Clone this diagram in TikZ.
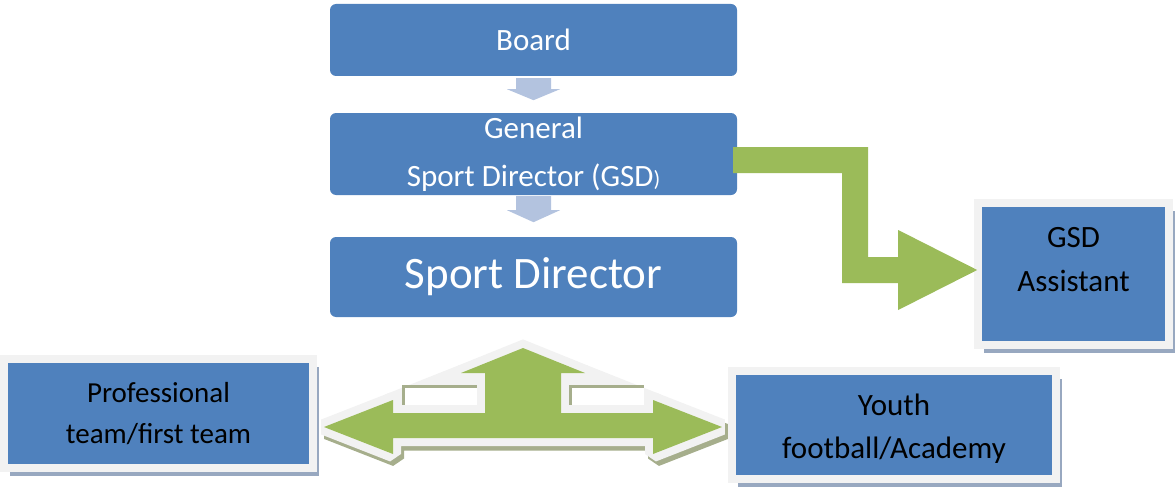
\documentclass[tikz,border=0pt]{standalone}
\usepackage{fontspec}
\setmainfont{Carlito}
\usetikzlibrary{shadows}
\definecolor{color_box_blue}{HTML}{4F81BD}
\definecolor{color_box_frame}{HTML}{F2F2F2}
\definecolor{color_box_shadow}{HTML}{98A8C0}
\definecolor{color_link_blue}{HTML}{B3C3DF}
\definecolor{color_link_green}{HTML}{9BBB59}
\definecolor{color_link_shadow}{HTML}{A6AE8C}
\def\hubarrow{(0,-79) -- (62,-54) -- (38,-54) -- (38,-14) -- (130,-14) -- (130,-27) -- (199,0) -- (130,27) -- (130,11)
    -- (-130,11) -- (-130,27) -- (-199,0) -- (-130,-27) -- (-130,-14) -- (-38,-14) -- (-38,-54) -- (-62,-54) -- cycle}

\begin{document}
\begin{tikzpicture}[x=1pt, y=-1pt,
    box_top/.style={fill=color_box_blue, rounded corners=6pt, text=white, minimum width=407pt, inner sep=0pt, align=center, font=\fontsize{31}{48}\selectfont},
    box_low/.style={fill=color_box_blue, draw=color_box_frame, line width=8pt, inner sep=0pt, align=center, drop shadow={shadow xshift=6pt, shadow yshift=-8pt, fill=color_box_shadow, opacity=1}},
    box_text/.style={inner sep=0pt, align=center},
    link_small/.style={fill=color_link_blue},
    hub_shadow/.style={draw=color_link_shadow, fill=color_link_shadow, line width=16pt, line join=miter, miter limit=1.5},
    hub_outline/.style={draw=color_box_frame, fill=color_box_frame, line width=16pt, line join=miter, miter limit=1.5}]
    \useasboundingbox (0,0) rectangle (1175,487);
    % management chain
    \node[box_top, minimum height=72pt] (board) at (533.5,40) {Board};
    \node[box_top, minimum height=82pt] (gsd) at (533.5,154) {General\\Sport Director (GSD{\fontsize{22}{22}\selectfont)}};
    \node[box_top, minimum height=80pt, font=\fontsize{45}{54}\selectfont] (sd) at (533.5,277) {Sport Director};
    % framed boxes
    \node[box_low, minimum width=191pt, minimum height=142pt] (gsda) at (1073.5,274) {};
    \node[box_text, font=\fontsize{31}{44}\selectfont] (gsdatext) at ([yshift=14pt]gsda.center) {GSD\\Assistant};
    \node[box_low, minimum width=309pt, minimum height=109pt, font=\fontsize{29}{41}\selectfont] (prof) at (158.5,413.5) {Professional\\team/first team};
    \node[box_low, minimum width=324pt, minimum height=108pt] (youth) at (894,425) {};
    \node[box_text, font=\fontsize{31}{43}\selectfont] (youthtext) at ([yshift=-4pt]youth.center) {Youth\\football/Academy};
    % small arrows down the chain
    \fill[link_small, shift={(board.south)}] (-17.5,2) -- (17.5,2) -- (17.5,13) -- (26.5,13) -- (0,24) -- (-26.5,13) -- (-17.5,13) -- cycle;
    \fill[link_small, shift={(gsd.south)}] (-17.5,1) -- (17.5,1) -- (17.5,15) -- (26.5,15) -- (0,27) -- (-26.5,15) -- (-17.5,15) -- cycle;
    % bent arrow to the assistant
    \fill[color_link_green, shift={(gsd.east)}] (-4,-7) -- (131,-7) -- (131,103) -- (161,103) -- (161,76) -- (240,116) -- (161,156) -- (161,129) -- (105,129) -- (105,19) -- (-4,19) -- cycle;
    % three way arrow
    \coordinate (hub) at (523,427);
    \begin{scope}[shift={(hub)}]
        \filldraw[hub_shadow, xshift=3pt, yshift=-4.5pt] \hubarrow;
        \filldraw[hub_outline] \hubarrow;
        \filldraw[hub_outline] (-130,-27) -- (-62,-54) -- (-38,-54) -- (-38,-14) -- (-130,-14) -- cycle;
        \filldraw[hub_outline] (130,-27) -- (62,-54) -- (38,-54) -- (38,-14) -- (130,-14) -- cycle;
        % notches
        \fill[color_link_shadow] (-121,-42) rectangle (-46,-22);
        \fill[white] (-118,-39) rectangle (-46,-22);
        \fill[color_link_shadow] (46,-42) rectangle (121,-22);
        \fill[white] (49,-39) rectangle (121,-22);
        \fill[color_link_green] \hubarrow;
    \end{scope}
\end{tikzpicture}
\end{document}
